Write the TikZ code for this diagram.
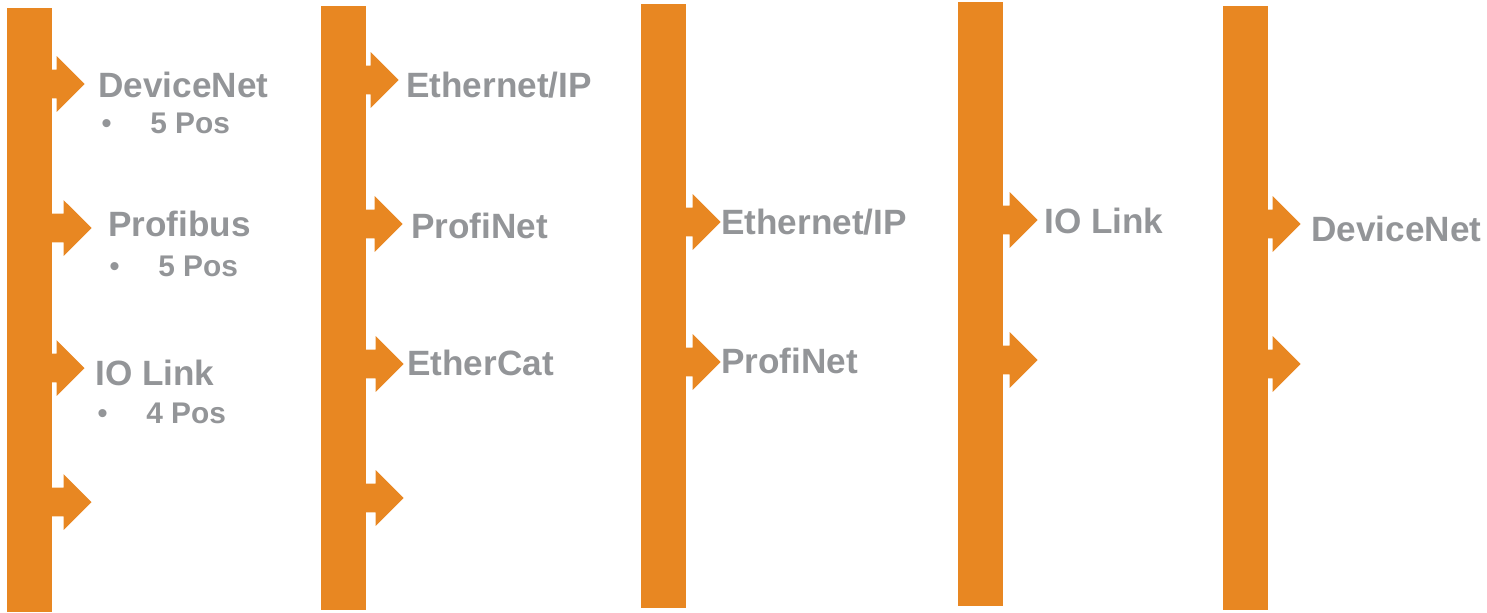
\documentclass[tikz,border=0pt]{standalone}
\usepackage{fontspec}
\setsansfont{Liberation Sans}
\usepackage{tikz}
\usetikzlibrary{shapes.arrows}
\definecolor{busorange}{RGB}{232,135,34}
\definecolor{labelgray}{RGB}{147,149,152}
\tikzset{%
  bus/.style={rectangle, fill=busorange, inner sep=0, minimum width=0.9cm,
    minimum height=12.08cm, anchor=north west},% vertical bus bar
  tab/.style={shape=single arrow, fill=busorange, inner xsep=0, inner ysep=0.28cm,
    minimum width=1.1cm, minimum height=1.4cm,
    single arrow head extend=0.27cm, anchor=tip},% arrow leaving a bar
  proto/.style={anchor=base west, inner sep=0, text=labelgray,
    font=\fontsize{20}{24}\selectfont\sffamily\bfseries},% protocol name
  posline/.style={anchor=base west, inner sep=0, text=labelgray,
    font=\fontsize{17}{20}\selectfont\sffamily\bfseries}% bullet line
}
\newcommand*{\bulletpos}[1]{\makebox[0.98cm][l]{\mdseries\textbullet}#1}

\begin{document}
\begin{tikzpicture}[x=0.02cm, y=-0.02cm]
\useasboundingbox (0,0) rectangle (1487,612);

% bars
\node[bus] (bar1) at (7,8) {};
\node[bus] (bar2) at (321,6) {};
\node[bus] (bar3) at (641,4) {};
\node[bus] (bar4) at (958,2) {};
\node[bus] (bar5) at (1223,6) {};

% arrows
\node[tab] (t11) at (85,84) {};
\node[tab] (t12) at (92,228) {};
\node[tab] (t13) at (85,368) {};
\node[tab] (t14) at (92,502) {};
\node[tab] (t21) at (399,80) {};
\node[tab] (t22) at (403,224) {};
\node[tab] (t23) at (404,364) {};
\node[tab] (t24) at (404,498) {};
\node[tab] (t31) at (721,222) {};
\node[tab] (t32) at (721,362) {};
\node[tab] (t41) at (1038,220) {};
\node[tab] (t42) at (1038,360) {};
\node[tab] (t51) at (1301,224) {};
\node[tab] (t52) at (1301,364) {};

%%%%
\node[proto] (devnet1) at (98,97) {DeviceNet};
\node[posline] (devnet1pos) at (101,133) {\bulletpos{5 Pos}};
\node[proto] (profibus) at (108,236) {Profibus};
\node[posline] (profibuspos) at (109,276) {\bulletpos{5 Pos}};
\node[proto] (iolink1) at (95,385) {IO Link};
\node[posline] (iolink1pos) at (97,423) {\bulletpos{4 Pos}};

\node[proto] (eip2) at (406,97) {Ethernet/IP};
\node[proto] (pnet2) at (411,238) {ProfiNet};
\node[proto] (ecat2) at (407,375) {EtherCat};

\node[proto] (eip3) at (721,234) {Ethernet/IP};
\node[proto] (pnet3) at (721,373) {ProfiNet};

\node[proto] (iolink4) at (1044,233) {IO Link};

\node[proto] (devnet5) at (1311,241) {DeviceNet};

\end{tikzpicture}
\end{document}
